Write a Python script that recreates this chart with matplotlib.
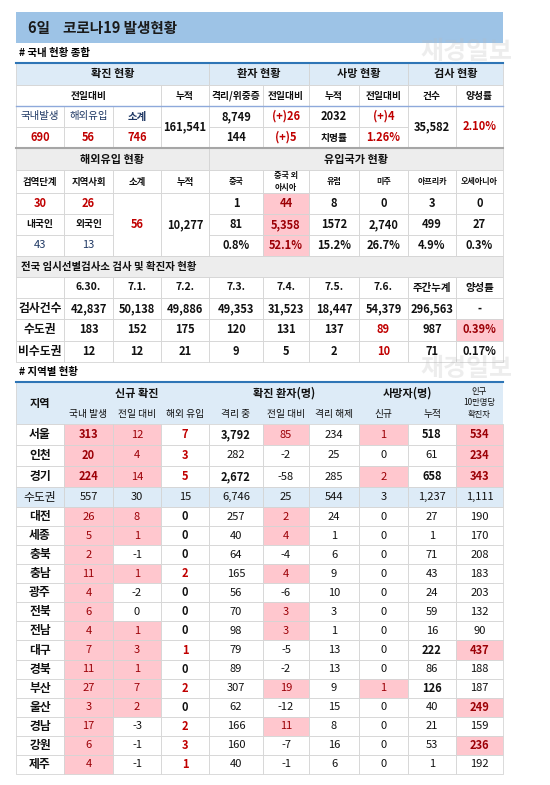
import matplotlib.pyplot as plt
from matplotlib.patches import Rectangle

plt.rcParams['font.family'] = ['Noto Sans CJK KR', 'DejaVu Sans']

#################### DATA ####################
title = '6일    코로나19 발생현황'
sum_heads = ['확진 현황', '환자 현황', '사망 현황', '검사 현황']
sum_sub = ['전일대비', '누적', '격리/위중증', '전일대비', '누적', '전일대비', '건수', '양성률']
sum_r3 = ['국내발생', '해외유입', '소계']
sum_r4 = ['690', '56', '746']
total_cum = '161,541'
isol = ['8,749', '(+)26']
severe = ['144', '(+)5']
death = ['2032', '(+)4']
fatal = ['치명률', '1.26%']
tests = '35,582'
pos_rate = '2.10%'

ovs_heads = ['해외유입 현황', '유입국가 현황']
ovs_sub = ['검역단계', '지역사회', '소계', '누적', '중국', '중국 외\n아시아', '유럽', '미주', '아프리카', '오세아니아']
ovs_stage = ['30', '26']
ovs_nat = ['내국인', '외국인']
ovs_natv = ['43', '13']
ovs_sub_total = '56'
ovs_cum = '10,277'
cty_new = ['1', '44', '8', '0', '3', '0']
cty_cum = ['81', '5,358', '1572', '2,740', '499', '27']
cty_pct = ['0.8%', '52.1%', '15.2%', '26.7%', '4.9%', '0.3%']

scr_title = '전국 임시선별검사소 검사 및 확진자 현황'
scr_cols = ['', '6.30.', '7.1.', '7.2.', '7.3.', '7.4.', '7.5.', '7.6.', '주간누계', '양성률']
scr_tests = ['검사건수', '42,837', '50,138', '49,886', '49,353', '31,523', '18,447', '54,379', '296,563', '-']
scr_metro = ['수도권', '183', '152', '175', '120', '131', '137', '89', '987', '0.39%']
scr_non = ['비수도권', '12', '12', '21', '9', '5', '2', '10', '71', '0.17%']

reg_groups = ['신규 확진', '확진 환자(명)', '사망자(명)']
reg_sub = ['국내 발생', '전일 대비', '해외 유입', '격리 중', '전일 대비', '격리 해제', '신규', '누적']
regions = ['서울', '인천', '경기', '수도권', '대전', '세종', '충북', '충남', '광주', '전북', '전남',
           '대구', '경북', '부산', '울산', '경남', '강원', '제주']
local = [313, 20, 224, 557, 26, 5, 2, 11, 4, 6, 4, 7, 11, 27, 3, 17, 6, 4]
local_diff = [12, 4, 14, 30, 8, 1, -1, 1, -2, 0, 1, 3, 1, 7, 2, -3, -1, -1]
imported = [7, 3, 5, 15, 0, 0, 0, 2, 0, 0, 0, 1, 0, 2, 0, 2, 3, 1]
isolating = [3792, 282, 2672, 6746, 257, 40, 64, 165, 56, 70, 98, 79, 89, 307, 62, 166, 160, 40]
isol_diff = [85, -2, -58, 25, 2, 4, -4, 4, -6, 3, 3, -5, -2, 19, -12, 11, -7, -1]
released = [234, 25, 285, 544, 24, 1, 6, 9, 10, 3, 1, 13, 13, 9, 15, 8, 16, 6]
dead_new = [1, 0, 2, 3, 0, 0, 0, 0, 0, 0, 0, 0, 0, 1, 0, 0, 0, 0]
dead_cum = [518, 61, 658, 1237, 27, 1, 71, 43, 24, 59, 16, 222, 86, 126, 40, 21, 53, 1]
per100k = [534, 234, 343, 1111, 190, 170, 208, 183, 203, 132, 90, 437, 188, 187, 249, 159, 236, 192]

#################### STYLE ####################
XS = [16, 64, 113, 161, 209, 263, 309, 359, 408, 456, 503]
BLUE_H = '#DDEBF7'
GRAY_H = '#EDEDED'
PINK = '#FFC7CE'
RED = '#C00000'
DRED = '#9C0006'
GRID = '#D4D4D4'
TXT = '#111111'

fig = plt.figure(figsize=(5.5, 7.85), dpi=100)
ax = fig.add_axes([0, 0, 1, 1])
ax.set_xlim(0, 550)
ax.set_ylim(785, 0)
ax.axis('off')


def cell(c0, c1, y0, y1, text='', fill=None, color=TXT, bold=False, size=7.5, ha='center', line=True):
    x0, x1 = XS[c0], XS[c1]
    ax.add_patch(Rectangle((x0, y0), x1 - x0, y1 - y0, facecolor=fill if fill else 'white',
                           edgecolor=GRID if line else 'none', linewidth=0.6))
    if text != '':
        tx = (x0 + x1) / 2 if ha == 'center' else x0 + 5
        ax.text(tx, (y0 + y1) / 2, text, ha=ha, va='center', fontsize=size, color=color,
                fontweight='bold' if bold else 'normal', linespacing=1.3)


def fmt(v):
    return f'{v:,}'


# title bar
ax.add_patch(Rectangle((16, 12), 487, 31, facecolor='#9DC3E6', edgecolor='none'))
ax.text(28, 27.5, title, fontsize=10.5, fontweight='bold', va='center', color='#1a1a1a')
ax.text(19, 53, '# 국내 현황 종합', fontsize=7.5, fontweight='bold', va='center')
ax.text(420, 52, '재경일보', fontsize=18, fontweight='bold', va='center', color='#BBBBBB', alpha=0.25)
ax.text(420, 369, '재경일보', fontsize=18, fontweight='bold', va='center', color='#BBBBBB', alpha=0.25)

# section 1 : summary
spans = [(0, 4), (4, 6), (6, 8), (8, 10)]
for (a, b), t in zip(spans, sum_heads):
    cell(a, b, 63, 85, t, BLUE_H, bold=True, size=8)
sub_spans = [(0, 3), (3, 4), (4, 5), (5, 6), (6, 7), (7, 8), (8, 9), (9, 10)]
for (a, b), t in zip(sub_spans, sum_sub):
    cell(a, b, 85, 106, t, size=7, bold=True)
for i, t in enumerate(sum_r3):
    cell(i, i + 1, 106, 127, t, size=7.5, bold=(i == 2), color='#1F3864')
for i, t in enumerate(sum_r4):
    cell(i, i + 1, 127, 148, t, color=RED, bold=True, size=8)
cell(3, 4, 106, 148, total_cum, bold=True, size=8)
cell(4, 5, 106, 127, isol[0], bold=True, size=8)
cell(5, 6, 106, 127, isol[1], color=RED, bold=True, size=8)
cell(4, 5, 127, 148, severe[0], bold=True, size=8)
cell(5, 6, 127, 148, severe[1], color=RED, bold=True, size=8)
cell(6, 7, 106, 127, death[0], bold=True, size=8)
cell(7, 8, 106, 127, death[1], color=RED, bold=True, size=8)
cell(6, 7, 127, 148, fatal[0], bold=True, size=7)
cell(7, 8, 127, 148, fatal[1], color=RED, bold=True, size=8)
cell(8, 9, 106, 148, tests, bold=True, size=8)
cell(9, 10, 106, 148, pos_rate, color=RED, bold=True, size=8)
ax.plot([16, 503], [63, 63], color='#2E75B6', lw=1.5)
ax.plot([16, 503], [106, 106], color='#8EA9DB', lw=1)
ax.plot([16, 503], [148, 148], color='#A6A6A6', lw=1.5)

# section 2 : overseas
cell(0, 4, 148, 170, ovs_heads[0], GRAY_H, bold=True, size=8)
cell(4, 10, 148, 170, ovs_heads[1], GRAY_H, bold=True, size=8)
for i, t in enumerate(ovs_sub):
    cell(i, i + 1, 170, 193, t, size=6.8 if i < 4 else 5.8, bold=True)
for i, t in enumerate(ovs_stage):
    cell(i, i + 1, 193, 214, t, color=RED, bold=True, size=8)
    cell(i, i + 1, 214, 235, ovs_nat[i], bold=True, size=7)
    cell(i, i + 1, 235, 256, ovs_natv[i], color='#1F3864', size=8)
cell(2, 3, 193, 256, ovs_sub_total, color=RED, bold=True, size=8)
cell(3, 4, 193, 256, ovs_cum, bold=True, size=8)
for j, rowvals in enumerate([cty_new, cty_cum, cty_pct]):
    y0 = 193 + 21 * j
    for i, t in enumerate(rowvals):
        hot = (i == 1)
        cell(4 + i, 5 + i, y0, y0 + 21, t, PINK if hot else None,
             color=DRED if hot else TXT, bold=True, size=8)

# section 3 : screening
cell(0, 10, 256, 277, scr_title, GRAY_H, bold=True, size=7.5, ha='left')
for i, t in enumerate(scr_cols):
    cell(i, i + 1, 277, 298, t, bold=True, size=7.5)
for j, rowvals in enumerate([scr_tests, scr_metro, scr_non]):
    y0 = 298 + 21.3 * j
    for i, t in enumerate(rowvals):
        fill, col = None, TXT
        if i == 7 and j > 0:
            col = RED
        if i == 9 and j == 1:
            fill, col = PINK, DRED
        cell(i, i + 1, y0, y0 + 21.3, t, fill, color=col, bold=True,
             size=8 if i else 8.5)
ax.text(19, 372, '# 지역별 현황', fontsize=7.5, fontweight='bold', va='center')

# section 4 : regions
cell(0, 1, 382, 424, '지역', BLUE_H, bold=True, size=8)
for (a, b), t in zip([(1, 4), (4, 7), (7, 9)], reg_groups):
    cell(a, b, 382, 405, t, BLUE_H, bold=True, size=8, line=False)
for i, t in enumerate(reg_sub):
    cell(1 + i, 2 + i, 405, 424, t, BLUE_H, size=7, line=False)
cell(9, 10, 382, 424, '인구\n10만명당\n확진자', BLUE_H, size=6, line=False)
ax.plot([16, 503], [382, 382], color='#2E75B6', lw=1.5)

row_top = [424, 445, 466, 487] + [507 + 19.07 * k for k in range(15)]
for r, name in enumerate(regions):
    y0 = row_top[r]
    y1 = row_top[r + 1] if r + 1 < len(row_top) else 773
    metro = (name == '수도권')
    base = BLUE_H if metro else None
    cell(0, 1, y0, y1, name, base, bold=not metro, size=8.5)
    vals = [local[r], local_diff[r], imported[r], isolating[r], isol_diff[r],
            released[r], dead_new[r], dead_cum[r], per100k[r]]
    for i, v in enumerate(vals):
        fill, col, bold = base, TXT, False
        if not metro:
            if i in (0, 1, 4, 6) and v > 0:
                fill, col = PINK, DRED
            if i == 2:
                bold, col = True, (RED if v > 0 else TXT)
            if i == 3 and v > 1000:
                bold = True
            if i == 7 and v > 100:
                bold = True
            if i == 8 and v > 230:
                fill, col, bold = PINK, DRED, True
            if i == 0 and r < 3:
                bold = True
        cell(1 + i, 2 + i, y0, y1, fmt(v), fill, color=col, bold=bold, size=8)

fig.savefig('out.png', dpi=100, facecolor='white')
